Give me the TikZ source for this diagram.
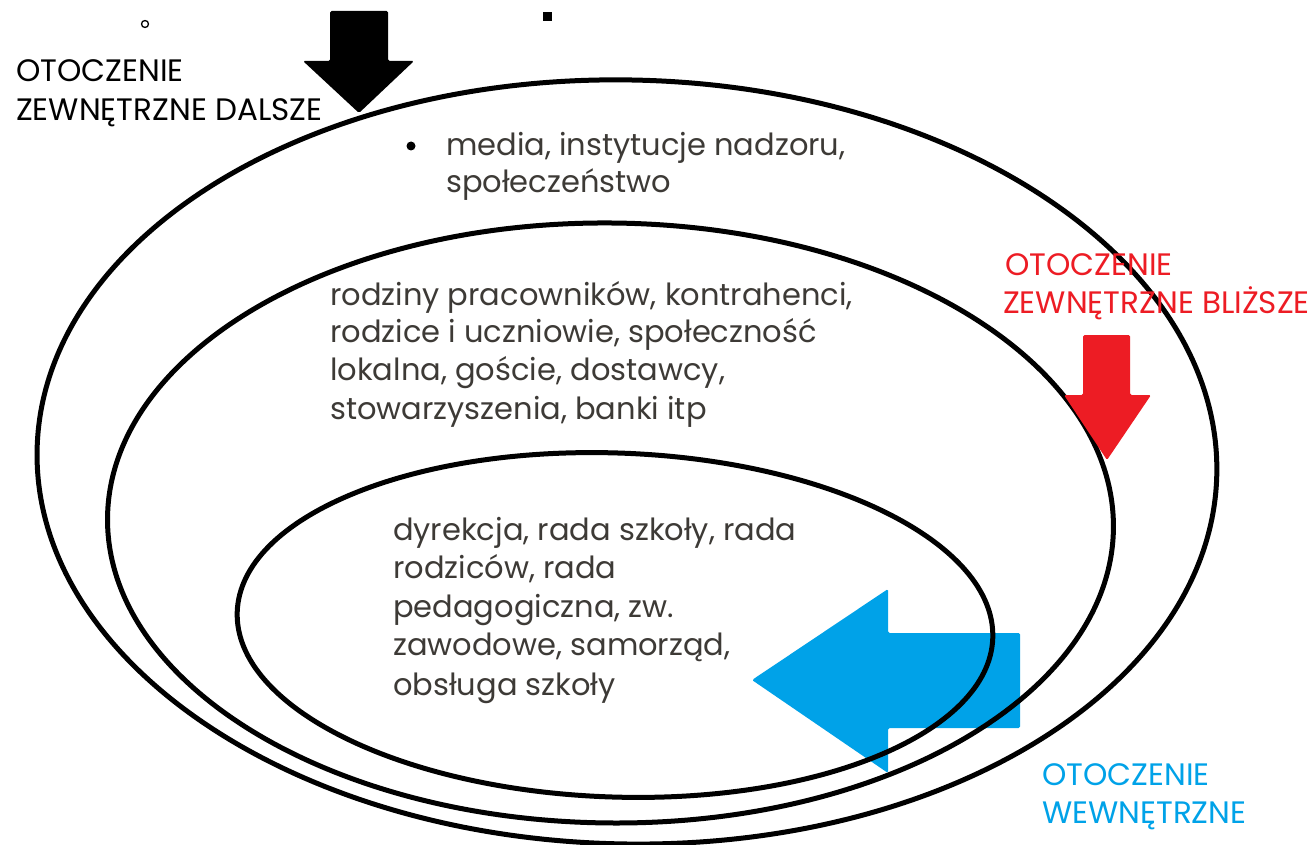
\documentclass[tikz,border=0pt]{standalone}
\usepackage{fontspec}
\setmainfont{Poppins}
\definecolor{pred}{HTML}{ED1C24}
\definecolor{pblue}{HTML}{00A2E8}
\definecolor{txt}{HTML}{3D3A36}
\begin{document}
\begin{tikzpicture}[x=1pt,y=-1pt,
  ring/.style={draw=black,line width=5pt},
  lbl/.style={font=\fontsize{31}{36}\selectfont,anchor=base west,inner sep=0pt},
  body/.style={lbl,text=txt,font=\fontsize{30.5}{36}\selectfont},
  bigarrow/.style={rounded corners=1.5pt}]
\useasboundingbox (0,0) rectangle (1312,845);
\fill[white] (0,0) rectangle (1312,845);
% blue arrow (under the rings)
\fill[pblue,bigarrow] (1020,633) -- (1020,728) -- (888,728) -- (888,773) -- (752,680) -- (888,589) -- (888,633) -- cycle;
% rings
\coordinate (co) at (627,462);
\coordinate (cm) at (610.5,523);
\coordinate (ci) at (615,625);
\draw[ring,rotate around={-1.2:(co)}] (co) ellipse [x radius=590,y radius=382];
\draw[ring,rotate around={-0.6:(cm)}] (cm) ellipse [x radius=503,y radius=300];
\draw[ring,rotate around={-2:(ci)}] (ci) ellipse [x radius=378,y radius=172];
% black and red arrows
\fill[black,bigarrow] (330,11) -- (388,11) -- (388,61) -- (414,61) -- (359,113) -- (303,61) -- (330,61) -- cycle;
\fill[pred,bigarrow] (1083,335) -- (1130,335) -- (1130,395) -- (1151,395) -- (1107,460) -- (1064,395) -- (1083,395) -- cycle;
% small marks
\node[draw=black,circle,line width=1.3pt,minimum size=7pt,inner sep=0pt] (dot) at (145,24) {};
\node[fill=black,minimum size=9pt,inner sep=0pt] (sq) at (547,17) {};
% labels
\node[lbl] (d1) at (16,82) {OTOCZENIE};
\node[lbl] (d2) at (16,121) {ZEWNĘTRZNE DALSZE};
\node[lbl,text=pred] (b1) at (1005,275) {OTOCZENIE};
\node[lbl,text=pred] (b2) at (1003,313) {ZEWNĘTRZNE BLIŻSZE};
\node[lbl,text=pblue] (w1) at (1042,785) {OTOCZENIE};
\node[lbl,text=pblue] (w2) at (1042,823) {WEWNĘTRZNE};
% outer text
\fill[black] (411,146) circle (4.5);
\node[body] (o1) at (446,156) {media, instytucje nadzoru,};
\node[body] (o2) at (446,193) {społeczeństwo};
% middle text
\node[body] (m1) at (330,305) {rodziny pracowników, kontrahenci,};
\node[body] (m2) at (330,342) {rodzice i uczniowie, społeczność};
\node[body] (m3) at (330,380) {lokalna, goście, dostawcy,};
\node[body] (m4) at (330,419) {stowarzyszenia, banki itp};
% inner text
\node[body] (i1) at (393,540) {dyrekcja, rada szkoły, rada};
\node[body] (i2) at (393,578) {rodziców, rada};
\node[body] (i3) at (393,617) {pedagogiczna, zw.};
\node[body] (i4) at (393,655) {zawodowe, samorząd,};
\node[body] (i5) at (393,695) {obsługa szkoły};
\end{tikzpicture}
\end{document}
